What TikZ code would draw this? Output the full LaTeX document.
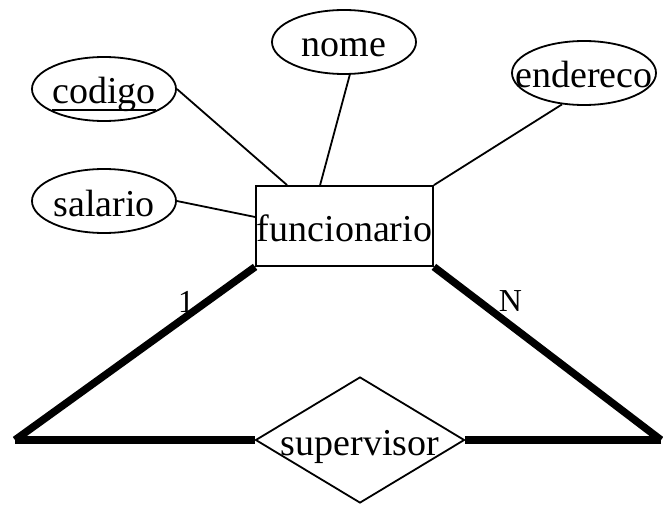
\documentclass[tikz,border=0pt]{standalone}
\usepackage{fontspec}
\setmainfont{Liberation Serif}
\usetikzlibrary{shapes.geometric}

% key attribute: rule under the word, through the descender
\newsavebox\keybox
\newcommand{\keyattr}[1]{\sbox\keybox{#1}\rlap{\rule[-7pt]{\wd\keybox}{2pt}}\usebox\keybox}

\begin{document}
\begin{tikzpicture}[x=1pt, y=-1pt, line width=1.8pt,
        every node/.style={font=\fontsize{38}{40}\selectfont},
        txt/.style={inner sep=0pt, text height=30pt, text depth=0pt},
        attrib/.style={draw, ellipse, minimum width=144pt, minimum height=64pt, label={[txt]center:#1}},
        entity/.style={draw, rectangle, txt, minimum width=177pt, minimum height=80pt},
        relation/.style={draw, diamond, minimum width=209pt, minimum height=126pt, label={[txt]center:#1}},
        total/.style={line width=7.5pt},
        card/.style={font=\fontsize{32}{32}\selectfont, inner sep=0pt}]
        \useasboundingbox (0,0) rectangle (663,505);

        % 1. The nodes
        % Entity and relationship
        \node[entity] (func) at (344.5,226) {funcionario};
        \node[relation=supervisor] (sup) at (360,440) {};

        % Attributes
        \node[attrib=\keyattr{codigo}] (codigo) at (104,89) {};
        \node[attrib=nome] (nome) at (344,42) {};
        \node[attrib=endereco] (endereco) at (584,73) {};
        \node[attrib=salario] (salario) at (104,201) {};

        % Outer corners of the self relationship
        \coordinate (LC) at (15,440);   % Left Corner
        \coordinate (RC) at (661,440);  % Right Corner

        % 2. Attribute lines
        \draw (codigo.east) -- ([xshift=32pt]func.north west);
        \draw (nome.-80) -- ([xshift=65pt]func.north west);
        \draw (endereco.-125) -- (func.north east);
        \draw (salario.east) -- ([yshift=9pt]func.west);

        % 3. The thick lines (total participation)
        \begin{scope}[total]
            \draw (func.south west) -- node[card, pos=0.2, xshift=-21pt] {1} (LC);
            \draw (LC) -- (sup.west);
            \draw (func.south east) -- node[card, pos=0.2, xshift=31pt] {N} (RC);
            \draw (RC) -- (sup.east);
        \end{scope}

    \end{tikzpicture}
\end{document}
